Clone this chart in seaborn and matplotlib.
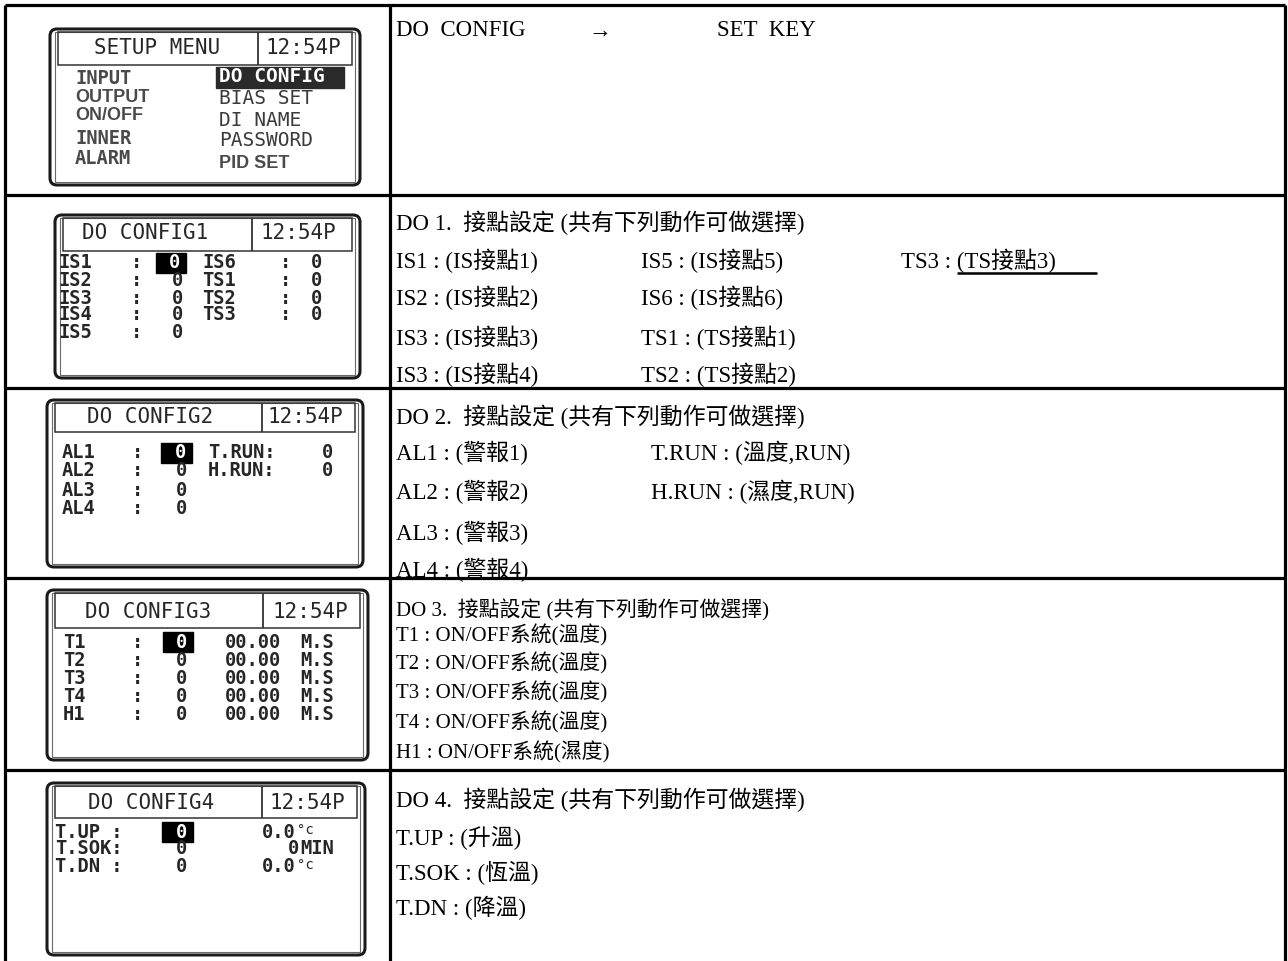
import matplotlib
matplotlib.use("Agg")
import matplotlib.pyplot as plt
from matplotlib.patches import Rectangle, FancyBboxPatch
import seaborn as sns

# ---- text content of the table ------------------------------------------
clock = "12:54P"
menu_title = "SETUP MENU"
menu_left = ["INPUT", "OUTPUT", "ON/OFF", "INNER", "ALARM"]
menu_right = ["DO CONFIG", "BIAS SET", "DI NAME", "PASSWORD", "PID SET"]

cfg_titles = ["DO CONFIG1", "DO CONFIG2", "DO CONFIG3", "DO CONFIG4"]
setting_value = "0"
cfg1_left = ["IS1", "IS2", "IS3", "IS4", "IS5"]
cfg1_right = ["IS6", "TS1", "TS2", "TS3"]
cfg2_left = ["AL1", "AL2", "AL3", "AL4"]
cfg2_right = ["T.RUN:", "H.RUN:"]
cfg3_names = ["T1", "T2", "T3", "T4", "H1"]
cfg3_time = "00.00"
cfg3_unit = "M.S"
cfg4_names = ["T.UP :", "T.SOK:", "T.DN :"]
cfg4_amounts = ["0.0", "0", "0.0"]
cfg4_units = ["°c", "MIN", "°c"]

row1_desc = ["DO  CONFIG", "→", "SET  KEY"]
do_titles = ["DO 1.  接點設定 (共有下列動作可做選擇)",
             "DO 2.  接點設定 (共有下列動作可做選擇)",
             "DO 3.  接點設定 (共有下列動作可做選擇)",
             "DO 4.  接點設定 (共有下列動作可做選擇)"]
do1_col1 = ["IS1 : (IS接點1)", "IS2 : (IS接點2)", "IS3 : (IS接點3)", "IS3 : (IS接點4)"]
do1_col2 = ["IS5 : (IS接點5)", "IS6 : (IS接點6)", "TS1 : (TS接點1)", "TS2 : (TS接點2)"]
do1_col3 = ["TS3 : (TS接點3)"]
do2_col1 = ["AL1 : (警報1)", "AL2 : (警報2)", "AL3 : (警報3)", "AL4 : (警報4)"]
do2_col2 = ["T.RUN : (溫度,RUN)", "H.RUN : (濕度,RUN)"]
do3_items = ["T1 : ON/OFF系統(溫度)", "T2 : ON/OFF系統(溫度)",
             "T3 : ON/OFF系統(溫度)", "T4 : ON/OFF系統(溫度)",
             "H1 : ON/OFF系統(濕度)"]
do4_items = ["T.UP : (升溫)", "T.SOK : (恆溫)", "T.DN : (降溫)"]

# ---- style ------------------------------------------------------------------
sns.set_theme(style="white")
plt.rcParams["font.family"] = ["Liberation Serif", "Noto Sans CJK TC"]

LCD_FONT = "DejaVu Sans Mono"
LCD_INK = "#262626"
DESC_SIZE = 16.5
ROW_SIZE = 13.5

fig = plt.figure(figsize=(12.88, 9.61), dpi=100)
ax = fig.add_axes([0, 0, 1, 1])
ax.set_xlim(0, 1288)
ax.set_ylim(961, 0)
ax.axis("off")

# table grid
row_lines = [5, 195, 388, 578, 770]
ax.vlines([5, 390, 1285], 5, 961, color="black", lw=2.3)
ax.hlines(row_lines, 5, 1285, color="black", lw=2.3)


def lcd(text, x, y, size=ROW_SIZE, ha="left", color=LCD_INK,
        family=LCD_FONT, weight="bold"):
    ax.text(x, y, text, fontsize=size, ha=ha, va="center", color=color,
            family=family, weight=weight)


def lcd_frame(x0, y0, x1, y1, head_bottom, divider):
    ax.add_patch(FancyBboxPatch((x0, y0), x1 - x0, y1 - y0,
                                boxstyle="round,pad=0,rounding_size=7",
                                fc="white", ec="#1a1a1a", lw=2.2))
    ax.add_patch(Rectangle((x0 + 5, y0 + 3), x1 - x0 - 10, y1 - y0 - 6,
                           fill=False, ec="#6a6a6a", lw=0.8))
    ax.add_patch(Rectangle((x0 + 8, y0 + 3), x1 - x0 - 16,
                           head_bottom - y0 - 3, fill=False, ec="#333333",
                           lw=1.1))
    ax.vlines(divider, y0 + 3, head_bottom, color="#333333", lw=1.3)


def highlight(x0, x1, y, text):
    ax.add_patch(Rectangle((x0, y - 10), x1 - x0, 20, color="black"))
    lcd(text, (x0 + x1) / 2 + 4, y, ha="center", color="white")


def desc(text, x, y, size=DESC_SIZE, clip=None):
    t = ax.text(x, y, text, fontsize=size, ha="left", va="center",
                color="black")
    if clip is not None:
        rect = Rectangle((390, clip[0]), 895, clip[1] - clip[0],
                         transform=ax.transData)
        t.set_clip_path(rect)


# ---- screen 1 : setup menu -------------------------------------------------
lcd_frame(50, 29, 360, 185, 65, 258)
lcd(menu_title, 157, 48, size=15, ha="center", weight="normal")
lcd(clock, 303, 48, size=15, ha="center", weight="normal")
left_ys = [79, 97, 115, 138, 158]
for name, y in zip(menu_left, left_ys):
    if "/" in name or name == "OUTPUT":
        lcd(name, 75, y, size=13, family="Liberation Sans", color="#4a4a4a")
    else:
        lcd(name, 75, y, size=13.5, color="#4a4a4a")
right_ys = [77, 98, 120, 141, 163]
ax.add_patch(Rectangle((216, 67), 128, 21, color="#2a2a2a"))
for name, y in zip(menu_right, right_ys):
    if name == "DO CONFIG":
        lcd(name, 219, y, size=14, color="white")
    elif name == "PID SET":
        lcd(name, 219, y, size=13, family="Liberation Sans",
            color="#4a4a4a")
    else:
        lcd(name, 219, y, size=14, color="#3a3a3a", weight="normal")

# ---- screen 2 : DO CONFIG1 ---------------------------------------------------
lcd_frame(55, 215, 360, 378, 251, 252)
lcd(cfg_titles[0], 145, 233, size=15, ha="center", weight="normal")
lcd(clock, 298, 233, size=15, ha="center", weight="normal")
cfg1_ys = [263, 281, 298, 315, 332]
for i, (name, y) in enumerate(zip(cfg1_left, cfg1_ys)):
    lcd(name, 58, y)
    lcd(":", 137, y, ha="center")
    if i == 0:
        highlight(156, 186, y, setting_value)
    else:
        lcd(setting_value, 178, y, ha="center")
for name, y in zip(cfg1_right, cfg1_ys):
    lcd(name, 202, y)
    lcd(":", 286, y, ha="center")
    lcd(setting_value, 317, y, ha="center")

# ---- screen 3 : DO CONFIG2 ---------------------------------------------------
lcd_frame(47, 400, 363, 567, 432, 262)
lcd(cfg_titles[1], 150, 417, size=15, ha="center", weight="normal")
lcd(clock, 305, 417, size=15, ha="center", weight="normal")
cfg2_ys = [453, 471, 490, 508]
for i, (name, y) in enumerate(zip(cfg2_left, cfg2_ys)):
    lcd(name, 62, y)
    lcd(":", 138, y, ha="center")
    if i == 0:
        highlight(161, 192, y, setting_value)
    else:
        lcd(setting_value, 182, y, ha="center")
for name, y in zip(cfg2_right, cfg2_ys):
    lcd(name, 208, y)
    lcd(setting_value, 328, y, ha="center")

# ---- screen 4 : DO CONFIG3 ---------------------------------------------------
lcd_frame(47, 590, 368, 760, 628, 263)
lcd(cfg_titles[2], 148, 612, size=15, ha="center", weight="normal")
lcd(clock, 310, 612, size=15, ha="center", weight="normal")
cfg3_ys = [642, 660, 678, 697, 715]
for i, (name, y) in enumerate(zip(cfg3_names, cfg3_ys)):
    lcd(name, 63, y)
    lcd(":", 138, y, ha="center")
    if i == 0:
        highlight(163, 193, y, setting_value)
    else:
        lcd(setting_value, 182, y, ha="center")
    lcd(cfg3_time, 253, y, ha="center")
    lcd(cfg3_unit, 317, y, ha="center")

# ---- screen 5 : DO CONFIG4 ---------------------------------------------------
lcd_frame(47, 783, 365, 955, 818, 262)
lcd(cfg_titles[3], 151, 803, size=15, ha="center", weight="normal")
lcd(clock, 307, 803, size=15, ha="center", weight="normal")
cfg4_ys = [832, 849, 867]
for i, (name, amount, unit, y) in enumerate(
        zip(cfg4_names, cfg4_amounts, cfg4_units, cfg4_ys)):
    lcd(name, 55, y)
    if i == 0:
        highlight(162, 193, y, setting_value)
    else:
        lcd(setting_value, 182, y, ha="center")
    if unit == "MIN":
        lcd(amount, 299, y, ha="right")
        lcd(unit, 300, y)
    else:
        lcd(amount, 296, y, ha="right")
        lcd(unit, 297, y - 2, size=10, weight="normal")

# ---- right column descriptions -------------------------------------------
desc(row1_desc[0], 396, 30)
desc(row1_desc[1], 588, 31)
desc(row1_desc[2], 717, 30)

desc(do_titles[0], 396, 223)
do1_ys = [261, 298, 338, 375]
for col, x in zip([do1_col1, do1_col2, do1_col3], [396, 641, 901]):
    for text, y in zip(col, do1_ys):
        desc(text, x, y, clip=(196, 387))
ax.hlines(273, 957, 1097, color="black", lw=1.8)

desc(do_titles[1], 396, 417)
do2_ys = [453, 492, 533, 570]
for col, x in zip([do2_col1, do2_col2], [396, 651]):
    for text, y in zip(col, do2_ys):
        desc(text, x, y, clip=(389, 577))

desc(do_titles[2], 396, 610, size=15)
for text, y in zip(do3_items, [635, 663, 692, 722, 752]):
    desc(text, 396, y, size=15)

desc(do_titles[3], 396, 800)
for text, y in zip(do4_items, [838, 873, 908]):
    desc(text, 396, y)

fig.savefig("out.png", dpi=100)
